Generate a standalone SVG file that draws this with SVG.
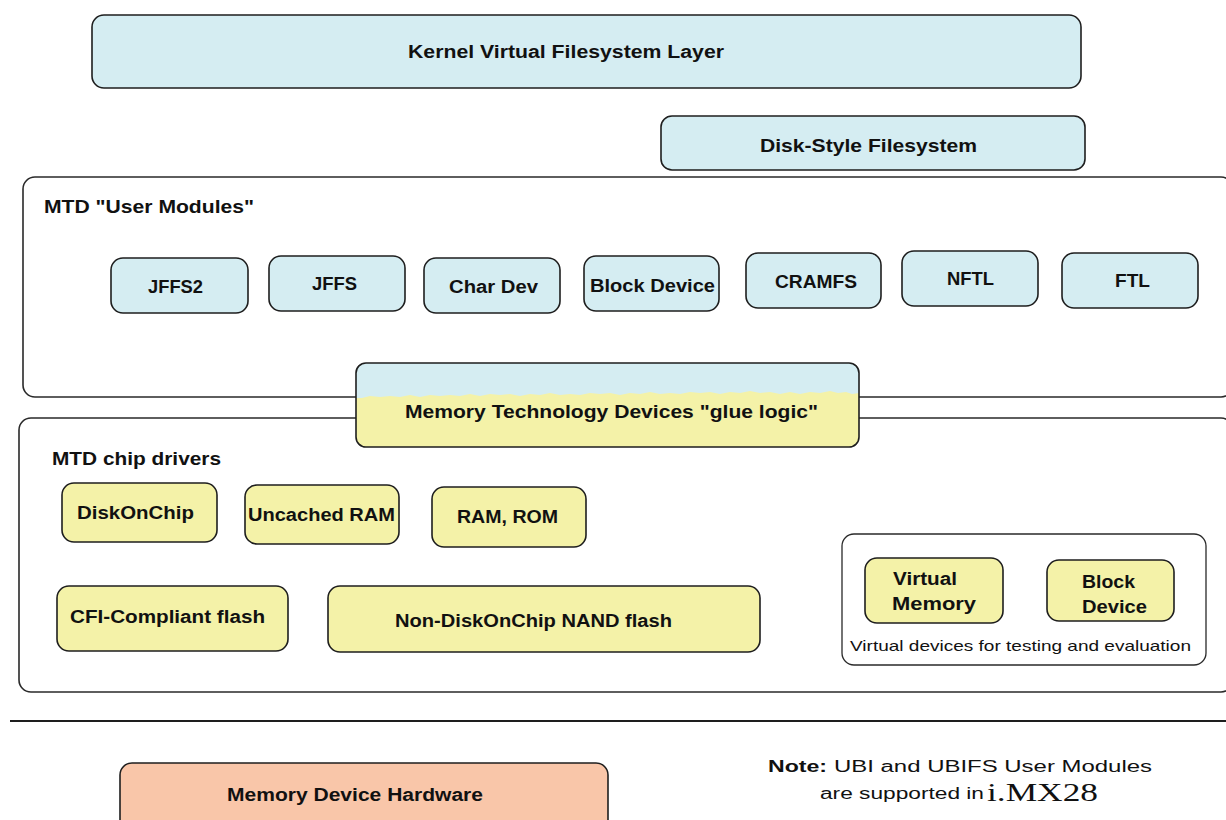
<svg xmlns="http://www.w3.org/2000/svg" width="1226" height="820" viewBox="0 0 1226 820">
<defs>
<style>
.box{stroke:#1e1e1e;stroke-width:1.6}
.blue{fill:#d5edf2}
.yel{fill:#f4f2a8}
.peach{fill:#f9c6a9}
.cont{fill:#ffffff;stroke:#2a2a2a;stroke-width:1.6}
.b{font-family:"Liberation Sans",Arial,sans-serif;font-weight:bold;font-size:18px;fill:#111}
.r{font-family:"Liberation Sans",Arial,sans-serif;font-size:15px;fill:#111}
.n{font-family:"Liberation Sans",Arial,sans-serif;font-size:16px;fill:#111}
.s{font-family:"Liberation Serif","Times New Roman",serif;font-size:25px;fill:#111}
</style>
<clipPath id="glueClip"><rect x="356" y="363" width="503" height="84" rx="10"/></clipPath>
</defs>
<rect width="1226" height="820" fill="#ffffff"/>

<g id="kernel-vfs">
<rect class="box blue" x="92" y="15" width="989" height="73" rx="12"/>
<text class="b" x="408" y="58" textLength="316" lengthAdjust="spacingAndGlyphs">Kernel Virtual Filesystem Layer</text>
</g>

<g id="disk-style-fs">
<rect class="box blue" x="661" y="116" width="424" height="54" rx="11"/>
<text class="b" x="760" y="152" textLength="217" lengthAdjust="spacingAndGlyphs">Disk-Style Filesystem</text>
</g>

<g id="mtd-user-modules">
<rect class="cont" x="23" y="177" width="1210" height="220" rx="12"/>
<text class="b" x="44" y="213" textLength="210" lengthAdjust="spacingAndGlyphs">MTD "User Modules"</text>
</g>

<g id="jffs2">
<rect class="box blue" x="111" y="258" width="137" height="55" rx="12"/>
<text class="b" x="148" y="293" textLength="55" lengthAdjust="spacingAndGlyphs">JFFS2</text>
</g>
<g id="jffs">
<rect class="box blue" x="269" y="256" width="136" height="55" rx="12"/>
<text class="b" x="312" y="290" textLength="45" lengthAdjust="spacingAndGlyphs">JFFS</text>
</g>
<g id="char-dev">
<rect class="box blue" x="424" y="258" width="136" height="55" rx="12"/>
<text class="b" x="449" y="293" textLength="89" lengthAdjust="spacingAndGlyphs">Char Dev</text>
</g>
<g id="block-device">
<rect class="box blue" x="584" y="256" width="135" height="55" rx="12"/>
<text class="b" x="590" y="292" textLength="125" lengthAdjust="spacingAndGlyphs">Block Device</text>
</g>
<g id="cramfs">
<rect class="box blue" x="746" y="253" width="135" height="55" rx="12"/>
<text class="b" x="775" y="288" textLength="82" lengthAdjust="spacingAndGlyphs">CRAMFS</text>
</g>
<g id="nftl">
<rect class="box blue" x="902" y="251" width="136" height="55" rx="12"/>
<text class="b" x="947" y="285" textLength="47" lengthAdjust="spacingAndGlyphs">NFTL</text>
</g>
<g id="ftl">
<rect class="box blue" x="1062" y="253" width="136" height="55" rx="12"/>
<text class="b" x="1115" y="287" textLength="35" lengthAdjust="spacingAndGlyphs">FTL</text>
</g>

<g id="mtd-chip-drivers">
<rect class="cont" x="19" y="418" width="1214" height="274" rx="12"/>
<text class="b" x="52" y="465" textLength="169" lengthAdjust="spacingAndGlyphs">MTD chip drivers</text>
</g>

<g id="glue-logic">
<rect class="yel" x="356" y="363" width="503" height="84" rx="10"/>
<path class="blue" clip-path="url(#glueClip)" d="M356 363 H859 V393 L852 394 L846 392 L838 393 L830 391 L820 393 L810 392 L800 394 L790 392 L780 394 L770 392 L760 393 L750 391 L740 393 L730 392 L720 394 L710 392 L700 393 L690 392 L680 394 L670 393 L660 394 L650 392 L640 394 L630 393 L620 395 L610 393 L600 394 L590 393 L580 395 L570 394 L560 395 L550 393 L540 395 L530 394 L520 396 L510 394 L500 395 L490 394 L480 396 L470 394 L460 396 L450 395 L440 396 L430 395 L420 397 L410 395 L400 397 L390 396 L380 397 L370 396 L362 398 L356 398 Z"/>
<rect x="356" y="363" width="503" height="84" rx="10" fill="none" stroke="#1e1e1e" stroke-width="1.6"/>
<text class="b" x="405" y="418" textLength="413" lengthAdjust="spacingAndGlyphs">Memory Technology Devices "glue logic"</text>
</g>

<g id="diskonchip">
<rect class="box yel" x="62" y="483" width="155" height="59" rx="12"/>
<text class="b" x="77" y="519" textLength="117" lengthAdjust="spacingAndGlyphs">DiskOnChip</text>
</g>
<g id="uncached-ram">
<rect class="box yel" x="245" y="485" width="154" height="59" rx="12"/>
<text class="b" x="248" y="521" textLength="147" lengthAdjust="spacingAndGlyphs">Uncached RAM</text>
</g>
<g id="ram-rom">
<rect class="box yel" x="432" y="487" width="154" height="60" rx="12"/>
<text class="b" x="457" y="523" textLength="101" lengthAdjust="spacingAndGlyphs">RAM, ROM</text>
</g>
<g id="cfi-flash">
<rect class="box yel" x="57" y="586" width="231" height="65" rx="12"/>
<text class="b" x="70" y="623" textLength="195" lengthAdjust="spacingAndGlyphs">CFI-Compliant flash</text>
</g>
<g id="nand-flash">
<rect class="box yel" x="328" y="586" width="432" height="66" rx="12"/>
<text class="b" x="395" y="627" textLength="277" lengthAdjust="spacingAndGlyphs">Non-DiskOnChip NAND flash</text>
</g>

<g id="virtual-devices">
<rect x="842" y="534" width="364" height="131" rx="12" fill="#ffffff" stroke="#2a2a2a" stroke-width="1.3"/>
<text class="r" x="850" y="651" textLength="341" lengthAdjust="spacingAndGlyphs">Virtual devices for testing and evaluation</text>
</g>
<g id="virtual-memory">
<rect class="box yel" x="865" y="558" width="138" height="65" rx="12"/>
<text class="b" x="893" y="585" textLength="64" lengthAdjust="spacingAndGlyphs">Virtual</text>
<text class="b" x="892" y="610" textLength="84" lengthAdjust="spacingAndGlyphs">Memory</text>
</g>
<g id="virtual-block-device">
<rect class="box yel" x="1047" y="560" width="127" height="61" rx="12"/>
<text class="b" x="1082" y="588" textLength="53" lengthAdjust="spacingAndGlyphs">Block</text>
<text class="b" x="1082" y="613" textLength="65" lengthAdjust="spacingAndGlyphs">Device</text>
</g>

<g id="connectors">
<line x1="10" y1="721" x2="1226" y2="721" stroke="#1e1e1e" stroke-width="2"/>
</g>

<g id="memory-device-hardware">
<rect class="box peach" x="120" y="763" width="488" height="80" rx="12"/>
<text class="b" x="227" y="801" textLength="256" lengthAdjust="spacingAndGlyphs">Memory Device Hardware</text>
</g>

<g id="note">
<text class="n" y="772"><tspan x="768" font-weight="bold" textLength="59" lengthAdjust="spacingAndGlyphs">Note:</tspan><tspan x="834" textLength="318" lengthAdjust="spacingAndGlyphs">UBI and UBIFS User Modules</tspan></text>
<text class="n" y="799"><tspan x="820" textLength="164" lengthAdjust="spacingAndGlyphs">are supported in</tspan><tspan class="s" x="987" y="801" textLength="111" lengthAdjust="spacingAndGlyphs">i.MX28</tspan></text>
</g>
</svg>
